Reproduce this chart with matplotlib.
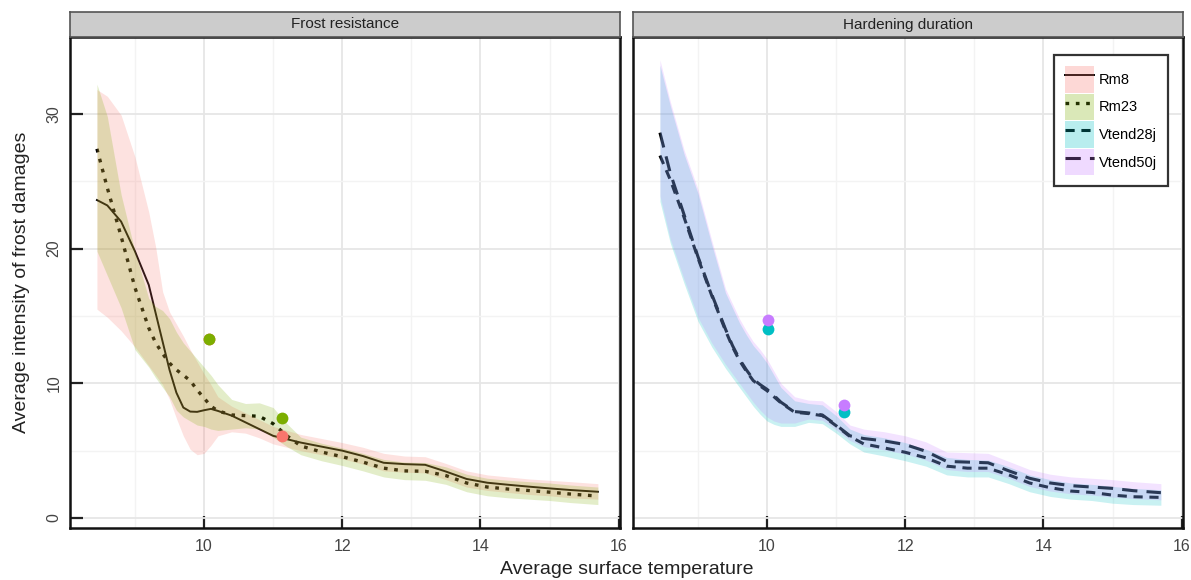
import matplotlib
matplotlib.use("Agg")
import matplotlib.pyplot as plt
from matplotlib.patches import Patch
from matplotlib.lines import Line2D

plt.rcParams['font.family'] = ['Liberation Sans', 'DejaVu Sans']

# ---------------- data ----------------
temp = [8.45, 8.6, 8.8, 9.0, 9.2, 9.3, 9.4, 9.5, 9.6, 9.7, 9.8, 9.9, 10.0, 10.1, 10.2,
        10.4, 10.6, 10.8, 11.0, 11.2, 11.4, 11.7, 12.0, 12.3, 12.6, 12.9, 13.2, 13.5,
        13.8, 14.1, 14.4, 14.7, 15.0, 15.3, 15.7]

# Frost resistance panel
rm8 = [23.6, 23.2, 22.0, 19.8, 17.3, 15.2, 13.1, 11.0, 9.3, 8.2, 7.9, 7.88, 8.0, 8.1, 7.95,
       7.6, 7.1, 6.6, 6.1, 5.85, 5.6, 5.3, 5.0, 4.6, 4.1, 4.0, 3.95, 3.45,
       2.9, 2.62, 2.47, 2.33, 2.2, 2.08, 1.95]
rm8_lo = [15.5, 14.9, 13.9, 12.7, 11.3, 10.6, 9.9, 8.8, 7.4, 6.1, 5.1, 4.7, 4.8, 5.4, 6.1,
          6.4, 6.3, 5.95, 5.5, 5.25, 5.0, 4.7, 4.4, 4.0, 3.5, 3.4, 3.35, 2.85,
          2.3, 2.05, 1.9, 1.75, 1.65, 1.5, 1.4]
rm8_hi = [31.8, 31.3, 29.9, 26.8, 22.7, 20.1, 16.8, 15.3, 14.4, 13.5, 12.5, 11.6, 10.7, 9.9, 9.0,
          8.3, 7.8, 7.3, 6.8, 6.5, 6.2, 5.9, 5.6, 5.25, 4.8, 4.6, 4.55, 4.05,
          3.5, 3.2, 3.05, 2.9, 2.8, 2.7, 2.55]

rm23 = [27.4, 24.5, 20.9, 17.1, 14.1, 13.0, 12.2, 11.5, 11.0, 10.6, 10.2, 9.5, 8.9, 8.3, 7.95,
        7.65, 7.6, 7.55, 7.0, 6.1, 5.35, 4.9, 4.55, 4.15, 3.7, 3.5, 3.47, 3.15,
        2.6, 2.3, 2.15, 2.04, 1.92, 1.78, 1.63]
rm23_lo = [19.8, 18.0, 15.6, 12.5, 11.2, 10.4, 9.7, 9.0, 8.0, 7.5, 7.2, 6.9, 6.8, 6.6, 6.5,
           6.6, 6.7, 6.6, 6.0, 5.3, 4.7, 4.25, 3.9, 3.5, 3.05, 2.85, 2.8, 2.5,
           1.95, 1.65, 1.5, 1.4, 1.3, 1.15, 1.0]
rm23_hi = [32.2, 29.8, 24.0, 19.8, 16.3, 15.7, 15.4, 14.8, 13.8, 13.0, 12.4, 11.8, 11.2, 10.6, 9.9,
           8.8, 8.5, 8.55, 8.2, 7.0, 6.0, 5.55, 5.2, 4.8, 4.35, 4.15, 4.12, 3.8,
           3.25, 2.95, 2.8, 2.7, 2.6, 2.45, 2.3]

# Hardening duration panel
vt28 = [26.9, 25.1, 22.3, 19.3, 16.5, 15.2, 13.9, 12.7, 11.7, 10.9, 10.2, 9.8, 9.45, 9.0, 8.55,
        7.85, 7.75, 7.6, 6.85, 6.05, 5.5, 5.2, 4.88, 4.47, 3.85, 3.7, 3.7, 3.2,
        2.6, 2.25, 2.0, 1.9, 1.7, 1.58, 1.53]
vt28_lo = [23.5, 20.4, 17.4, 14.6, 12.7, 11.9, 11.1, 10.4, 9.7, 9.0, 8.3, 7.7, 7.2, 6.95, 6.8,
           6.8, 7.1, 7.0, 6.3, 5.5, 4.9, 4.6, 4.25, 3.85, 3.2, 3.05, 3.05, 2.55,
           1.95, 1.6, 1.4, 1.3, 1.1, 1.0, 0.95]
vt28_hi = [33.6, 30.6, 27.0, 24.1, 20.3, 18.5, 16.7, 15.6, 14.5, 13.6, 12.8, 12.2, 11.5, 10.6, 9.7,
           8.7, 8.5, 8.4, 7.6, 6.6, 6.2, 5.95, 5.6, 5.1, 4.5, 4.35, 4.3, 3.8,
           3.2, 2.85, 2.6, 2.5, 2.35, 2.2, 2.1]

vt50 = [28.6, 25.6, 22.5, 19.4, 16.6, 15.3, 14.0, 12.8, 11.8, 11.0, 10.3, 9.9, 9.55, 9.1, 8.6,
        7.9, 7.8, 7.65, 6.9, 6.1, 5.9, 5.72, 5.45, 4.95, 4.2, 4.15, 4.1, 3.5,
        2.95, 2.6, 2.4, 2.3, 2.2, 2.03, 1.88]
vt50_lo = [23.9, 20.7, 17.7, 14.9, 13.0, 12.2, 11.4, 10.7, 10.0, 9.3, 8.6, 8.0, 7.5, 7.2, 7.05,
           7.05, 7.35, 7.25, 6.55, 5.75, 5.3, 5.05, 4.75, 4.3, 3.6, 3.45, 3.45, 2.95,
           2.35, 2.0, 1.8, 1.7, 1.55, 1.45, 1.35]
vt50_hi = [34.0, 30.9, 27.3, 24.4, 20.6, 18.8, 17.0, 15.9, 14.8, 13.9, 13.1, 12.5, 11.8, 10.9, 10.0,
           9.0, 8.75, 8.7, 7.9, 6.9, 6.6, 6.4, 6.1, 5.65, 4.9, 4.85, 4.8, 4.2,
           3.6, 3.25, 3.05, 2.95, 2.85, 2.7, 2.55]

# observed points
pt_x = [10.07, 11.13]
rm8_pts = [13.3, 6.1]
rm23_pts = [13.3, 7.4]
pt_x_r = [10.02, 11.11]
vt28_pts = [14.05, 7.87]
vt50_pts = [14.7, 8.37]

series_names = ['Rm8', 'Rm23', 'Vtend28j', 'Vtend50j']
fill_cols = ['#F8766D', '#7CAE00', '#00BFC4', '#C77CFF']
line_styles = ['-', (0, (1.1, 2.0)), (0, (3.0, 2.2)), (0, (5.0, 3.0))]
panel_titles = ['Frost resistance', 'Hardening duration']

# ---------------- figure ----------------
W, H = 1191, 580
fig = plt.figure(figsize=(W / 100, H / 100), dpi=100)

def fx(px):
    return px / W

def fy(py):
    return 1 - py / H

ax_top, ax_bot = 37, 528
lefts = [70, 633]
width = 550
axes = []
for i, l in enumerate(lefts):
    ax = fig.add_axes([fx(l), fy(ax_bot), width / W, (ax_bot - ax_top) / H])
    axes.append(ax)
    sax = fig.add_axes([fx(l), fy(ax_top), width / W, (ax_top - 12) / H])
    sax.set_xticks([]); sax.set_yticks([])
    sax.set_facecolor('#cccccc')
    for s in sax.spines.values():
        s.set_color('#555555'); s.set_linewidth(1.2)
    sax.text(0.5, 0.5, panel_titles[i], ha='center', va='center', fontsize=11,
             color='#222222', transform=sax.transAxes)

alpha = 0.21
lw_line = 1.4
for ax in axes:
    ax.set_xlim(8.06, 16.02)
    ax.set_ylim(-0.74, 35.7)
    ax.set_xticks([10, 12, 14, 16])
    ax.set_xticks([9, 11, 13, 15], minor=True)
    ax.set_yticks([0, 10, 20, 30])
    ax.set_yticks([5, 15, 25], minor=True)
    ax.grid(True, which='major', color='#e6e6e6', lw=1.3, zorder=0)
    ax.grid(True, which='minor', color='#f3f3f3', lw=1.0, zorder=0)
    ax.set_axisbelow(True)
    for s in ax.spines.values():
        s.set_color('#111111'); s.set_linewidth(1.8)
    ax.tick_params(which='major', direction='in', length=9, width=1.6, color='#222222',
                   labelsize=11.5, labelcolor='#444444', pad=8)
    ax.tick_params(which='minor', length=0)

axL, axR = axes
axL.tick_params(axis='y', labelrotation=90, pad=6)
for t in axL.get_yticklabels():
    t.set_va('center')
axR.tick_params(axis='y', left=False, labelleft=False)

# Left panel: lines below, ribbons over them
axL.plot(temp, rm8, color='black', lw=lw_line, ls=line_styles[0], zorder=2)
axL.plot(temp, rm23, color='black', lw=2.4, ls=line_styles[1], zorder=2)
axL.fill_between(temp, rm8_lo, rm8_hi, color=fill_cols[0], alpha=alpha, lw=0, zorder=3)
axL.fill_between(temp, rm23_lo, rm23_hi, color=fill_cols[1], alpha=alpha, lw=0, zorder=3)
axL.plot(pt_x, rm8_pts, 'o', color=fill_cols[0], ms=8.5, mec='none', zorder=4)
axL.plot(pt_x, rm23_pts, 'o', color=fill_cols[1], ms=8.5, mec='none', zorder=4)

# Right panel
axR.plot(temp, vt28, color='black', lw=2.2, ls=line_styles[2], zorder=2)
axR.plot(temp, vt50, color='black', lw=2.2, ls=line_styles[3], zorder=2)
axR.fill_between(temp, vt28_lo, vt28_hi, color=fill_cols[2], alpha=alpha, lw=0, zorder=3)
axR.fill_between(temp, vt50_lo, vt50_hi, color=fill_cols[3], alpha=alpha, lw=0, zorder=3)
axR.plot(pt_x_r, vt28_pts, 'o', color=fill_cols[2], ms=8.5, mec='none', zorder=4)
axR.plot(pt_x_r, vt50_pts, 'o', color=fill_cols[3], ms=8.5, mec='none', zorder=4)

# legend
handles = []
lws = [lw_line, 2.4, 2.2, 2.2]
for c, ls, lw in zip(fill_cols, line_styles, lws):
    handles.append((Line2D([], [], color='black', ls=ls, lw=lw),
                    Patch(facecolor=c, alpha=0.28, edgecolor='none')))
leg = axR.legend(handles, series_names, loc='upper right',
                 bbox_to_anchor=(0.973, 0.963), bbox_transform=axR.transAxes,
                 borderaxespad=0, fontsize=10.5, handlelength=2.0, handleheight=2.45,
                 labelspacing=0.05, handletextpad=0.35, borderpad=0.75,
                 fancybox=False, framealpha=1)
leg.get_frame().set_edgecolor('#333333')
leg.get_frame().set_linewidth(1.6)
leg.set_zorder(10)

fig.text(fx(626.5), fy(570), 'Average surface temperature', ha='center', va='center',
         fontsize=14, color='#222222')
fig.text(fx(22), fy(282.5), 'Average intensity of frost damages', ha='center',
         va='center', rotation=90, fontsize=14, color='#222222')

fig.savefig('out.png', dpi=100)
